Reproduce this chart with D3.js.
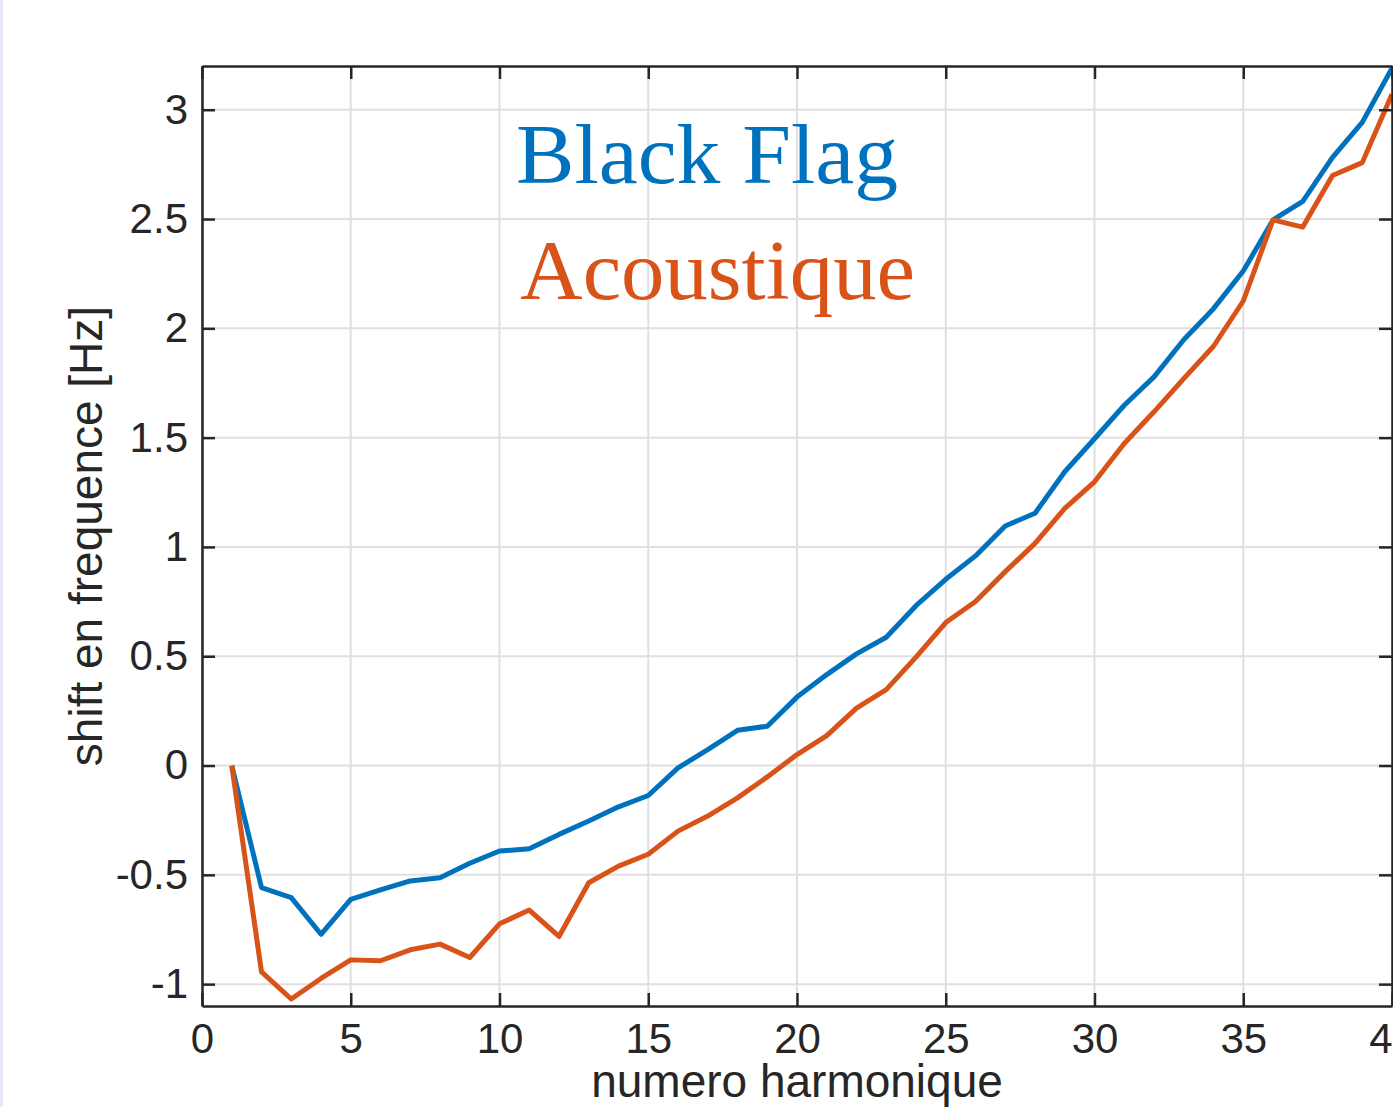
<!DOCTYPE html>
<html>
<head>
<meta charset="utf-8">
<script src="https://cdn.jsdelivr.net/npm/d3@7"></script>
<style>
  body { margin: 0; background: #fff; overflow: hidden; }
  svg { display: block; }
</style>
</head>
<body>
<script>
// harmonic numbers on the x axis
var harmonics = [1, 2, 3, 4, 5, 6, 7, 8, 9, 10,
                 11, 12, 13, 14, 15, 16, 17, 18, 19, 20,
                 21, 22, 23, 24, 25, 26, 27, 28, 29, 30,
                 31, 32, 33, 34, 35, 36, 37, 38, 39, 40];

// frequency shift [Hz]
var blackFlag = [0, -0.558, -0.604, -0.772, -0.612, -0.569, -0.528, -0.513, -0.447, -0.391,
                 -0.381, -0.315, -0.254, -0.189, -0.137, -0.011, 0.073, 0.161, 0.180, 0.313,
                 0.416, 0.511, 0.587, 0.731, 0.852, 0.959, 1.096, 1.154, 1.344, 1.495,
                 1.648, 1.778, 1.948, 2.090, 2.262, 2.496, 2.581, 2.782, 2.942, 3.19];

var acoustique = [0, -0.944, -1.068, -0.974, -0.889, -0.893, -0.843, -0.817, -0.878, -0.724,
                  -0.661, -0.782, -0.536, -0.460, -0.406, -0.300, -0.231, -0.148, -0.052, 0.05,
                  0.137, 0.263, 0.347, 0.496, 0.654, 0.750, 0.887, 1.016, 1.176, 1.298,
                  1.473, 1.618, 1.770, 1.918, 2.125, 2.496, 2.463, 2.699, 2.758, 3.071];

var seriesNames = ["Black Flag", "Acoustique"];
var xTicks = [0, 5, 10, 15, 20, 25, 30, 35, 40];
var yTicks = [-1, -0.5, 0, 0.5, 1, 1.5, 2, 2.5, 3];
var xDomain = [0, 40], yDomain = [-1.1, 3.2];

var W = 1393, H = 1107,
    plotLeft = 202, plotRight = 1392, plotTop = 66, plotBottom = 1006,
    tickLen = 13,
    axisColor = "#262626",
    gridColor = "#e0e0e0",
    colors = ["#0072BD", "#D95319"],
    sans = "'Liberation Sans', Arial, Helvetica, sans-serif";

var svg = d3.select("body").append("svg")
    .attr("width", W)
    .attr("height", H);

svg.append("rect").attr("width", W).attr("height", H).attr("fill", "#fff");
// thin lavender strip on the left border of the picture
svg.append("rect").attr("x", 0).attr("y", 0).attr("width", 3).attr("height", H).attr("fill", "#e7e7f5");

var x = d3.scaleLinear().domain(xDomain).range([plotLeft, plotRight]);
var y = d3.scaleLinear().domain(yDomain).range([plotBottom, plotTop]);

// grid
var grid = svg.append("g");
grid.selectAll(".gx").data(xTicks).enter().append("line")
    .attr("x1", function(d){ return x(d); }).attr("x2", function(d){ return x(d); })
    .attr("y1", plotTop).attr("y2", plotBottom)
    .attr("stroke", gridColor).attr("stroke-width", 2);
grid.selectAll(".gy").data(yTicks).enter().append("line")
    .attr("y1", function(d){ return y(d); }).attr("y2", function(d){ return y(d); })
    .attr("x1", plotLeft).attr("x2", plotRight)
    .attr("stroke", gridColor).attr("stroke-width", 2);

// series labels (LaTeX-like serif)
var labelPos = [{x: 516, y: 183}, {x: 520, y: 299}];
var labelWidth = [382, 395];
svg.selectAll(".serieslabel").data(seriesNames).enter().append("text")
    .attr("x", function(d, i){ return labelPos[i].x; })
    .attr("y", function(d, i){ return labelPos[i].y; })
    .attr("textLength", function(d, i){ return labelWidth[i]; })
    .attr("lengthAdjust", "spacingAndGlyphs")
    .style("font-family", "'Liberation Serif', 'DejaVu Serif', serif")
    .style("font-size", "84px")
    .attr("fill", function(d, i){ return colors[i]; })
    .text(function(d){ return d; });

// lines
var line = d3.line()
    .x(function(d){ return x(d[0]); })
    .y(function(d){ return y(d[1]); });

[blackFlag, acoustique].forEach(function(vals, k){
  svg.append("path")
      .datum(harmonics.map(function(h, i){ return [h, vals[i]]; }))
      .attr("fill", "none")
      .attr("stroke", colors[k])
      .attr("stroke-width", 5)
      .attr("stroke-linejoin", "round")
      .attr("d", line);
});

// axes
function styleAxis(g) {
  g.selectAll(".domain").attr("stroke", axisColor).attr("stroke-width", 2.5);
  g.selectAll(".tick line").attr("stroke", axisColor).attr("stroke-width", 2.5);
  g.selectAll("text")
      .attr("fill", axisColor)
      .style("font-family", sans)
      .style("font-size", "42px");
}

svg.append("g")
    .attr("transform", "translate(0," + plotBottom + ")")
    .call(d3.axisBottom(x).tickValues(xTicks).tickSizeInner(-tickLen).tickSizeOuter(0).tickPadding(17))
    .call(styleAxis);

svg.append("g")
    .attr("transform", "translate(0," + plotTop + ")")
    .call(d3.axisTop(x).tickValues(xTicks).tickSizeInner(-tickLen).tickSizeOuter(0).tickFormat(""))
    .call(styleAxis);

svg.append("g")
    .attr("transform", "translate(" + plotLeft + ",0)")
    .call(d3.axisLeft(y).tickValues(yTicks).tickSizeInner(-tickLen).tickSizeOuter(0).tickPadding(14)
      .tickFormat(function(d){ return String(d); }))
    .call(styleAxis);

svg.append("g")
    .attr("transform", "translate(" + plotRight + ",0)")
    .call(d3.axisRight(y).tickValues(yTicks).tickSizeInner(-tickLen).tickSizeOuter(0).tickFormat(""))
    .call(styleAxis);

// axis titles
svg.append("text")
    .attr("x", (plotLeft + plotRight) / 2)
    .attr("y", 1097)
    .attr("text-anchor", "middle")
    .attr("fill", axisColor)
    .style("font-family", sans)
    .style("font-size", "46px")
    .text("numero harmonique");

svg.append("text")
    .attr("transform", "translate(102,536) rotate(-90)")
    .attr("text-anchor", "middle")
    .attr("fill", axisColor)
    .style("font-family", sans)
    .style("font-size", "46px")
    .text("shift en frequence [Hz]");
</script>
</body>
</html>
